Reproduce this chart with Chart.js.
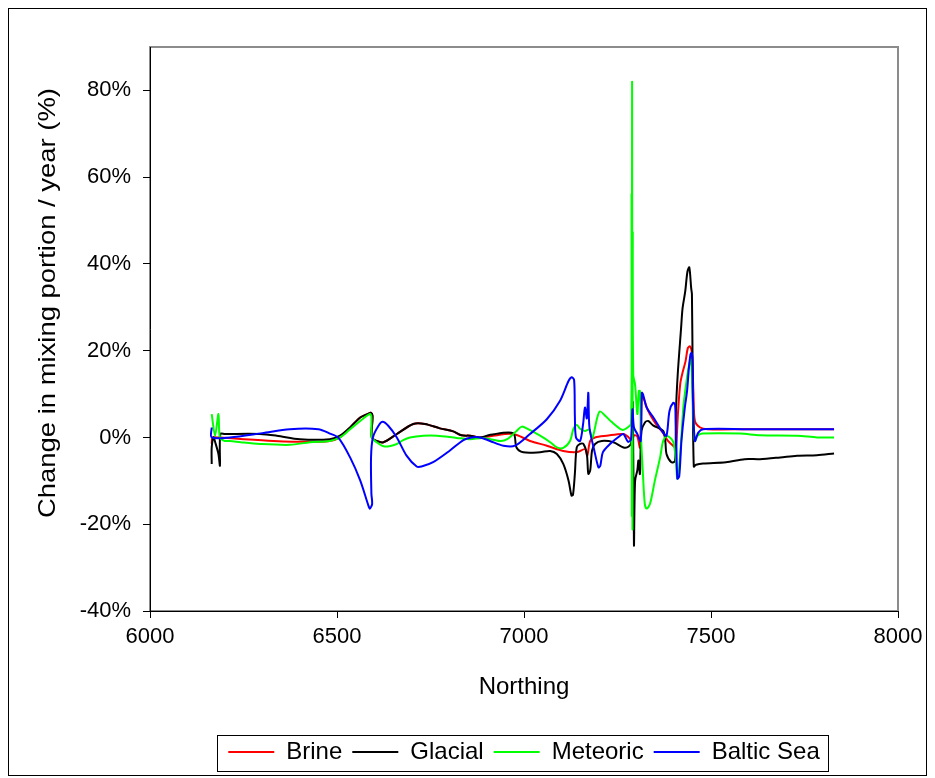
<!DOCTYPE html>
<html>
<head>
<meta charset="utf-8">
<title>Change in mixing portion / year</title>
<script src="https://cdn.jsdelivr.net/npm/chart.js@4"></script>
<style>
  html, body { margin: 0; padding: 0; background: #fff; }
  #wrap { position: relative; width: 935px; height: 778px; }
</style>
</head>
<body>
<div id="wrap"><canvas id="chart"></canvas></div>
<script>
// yearly change in mixing portion (%) along northing, one pair of arrays per end-member
const brineNorthing = [6165, 6167, 6180, 6187, 6250, 6330, 6420, 6480, 6508, 6535, 6562, 6584, 6590, 6595, 6593, 6606, 6624, 6660, 6704, 6735, 6775, 6811, 6833, 6856, 6882, 6910, 6971, 7016, 7061, 7105, 7141, 7163, 7169, 7177, 7190, 7221, 7266, 7280, 7289, 7294, 7303, 7310, 7315, 7320, 7330, 7346, 7360, 7372, 7385, 7400, 7406, 7412, 7418, 7425, 7432, 7438, 7444, 7449, 7453, 7457, 7471, 7490, 7600, 7829];
const brineChange = [-1.5, 0, 0, 0, -0.4, -0.8, -1.0, -0.8, 0, 2.3, 4.6, 5.5, 5.7, 5.0, 0, -0.8, -1.1, 0.8, 3.1, 3.1, 2.1, 1.4, 0.5, 0.4, 0, 0.3, 0.8, -0.8, -1.9, -3.1, -3.4, -2.7, -4.2, -0.8, 0, 0.4, 0.8, 0, -0.8, 0.5, 0.2, -2.3, 9.5, 9.0, 6.5, 4.0, 2.3, 1.0, -0.8, -2.0, -2.3, 6.0, 12.5, 15.3, 17.6, 20.6, 21.0, 19.5, 10.3, 3.8, 2.3, 1.9, 1.9, 1.9];

const glacialNorthing = [6165, 6165, 6170, 6174, 6183, 6187, 6188, 6200, 6294, 6339, 6401, 6481, 6508, 6535, 6562, 6584, 6590, 6595, 6593, 6606, 6624, 6660, 6704, 6735, 6775, 6811, 6833, 6856, 6882, 6910, 6971, 6980, 6998, 7043, 7070, 7088, 7105, 7119, 7127, 7131, 7136, 7141, 7150, 7159, 7168, 7172, 7177, 7182, 7190, 7208, 7239, 7266, 7280, 7288, 7291, 7294, 7297, 7303, 7306, 7310, 7314, 7323, 7332, 7345, 7372, 7378, 7381, 7394, 7404, 7406, 7411, 7420, 7424, 7431, 7437, 7442, 7447, 7449, 7451, 7454, 7460, 7479, 7540, 7590, 7631, 7685, 7730, 7783, 7829];
const glacialChange = [-6.1, -2.3, 0, -1.0, -3.8, -6.5, 0.8, 0.8, 0.8, 0.4, -0.4, -0.4, 0.4, 2.3, 4.6, 5.5, 5.7, 5.0, 0, -0.8, -1.1, 0.8, 3.1, 3.1, 2.1, 1.4, 0.5, 0.4, 0, 0.6, 1.0, -2.3, -3.4, -3.4, -3.1, -3.8, -6.1, -9.9, -13.4, -13.2, -8.4, -2.3, -1.5, -1.5, -3.8, -8.4, -7.6, -3.0, -1.5, -0.8, -1.1, -2.3, -2.1, -0.8, 8.0, -24.8, -10.0, -7.6, -5.3, -8.4, 1.5, 3.4, 3.8, 2.8, 1.5, -1.0, -3.8, -5.7, -5.4, 5.4, 14.5, 25.2, 29.8, 33.6, 38.2, 39.2, 34.4, 33.0, 14.5, -6.7, -6.3, -6.0, -5.7, -5.0, -5.0, -4.6, -4.2, -4.1, -3.7];

const meteoricNorthing = [6165, 6174, 6183, 6187, 6200, 6214, 6243, 6294, 6374, 6428, 6481, 6508, 6535, 6562, 6588, 6592, 6593, 6606, 6628, 6660, 6677, 6695, 6731, 6767, 6820, 6856, 6891, 6936, 6955, 6980, 6994, 7011, 7043, 7070, 7088, 7105, 7123, 7132, 7141, 7150, 7163, 7175, 7182, 7196, 7203, 7215, 7234, 7261, 7272, 7286, 7287.5, 7288.2, 7289, 7290, 7290.8, 7292, 7297, 7303, 7307, 7310, 7313, 7318, 7323, 7328, 7337, 7350, 7364, 7372, 7381, 7390, 7399, 7406, 7410, 7417, 7426, 7433, 7440, 7446, 7450, 7454, 7457, 7464, 7477, 7578, 7631, 7730, 7784, 7829];
const meteoricChange = [5.4, 0.4, 5.4, 0, -0.8, -0.8, -1.1, -1.5, -1.7, -1.1, -0.8, 0, 1.9, 3.8, 5.4, 4.8, 0, -1.1, -2.1, -1.5, -0.6, 0, 0.4, 0.4, -0.1, -0.4, -0.1, -0.8, -0.4, 1.5, 2.5, 1.9, 0.4, -1.1, -2.3, -2.4, -0.8, 1.9, 2.9, 2.0, 1.5, 1.8, -0.3, 4.6, 6.0, 5.2, 3.6, 1.8, 2.0, 3.2, 56.0, -18.0, 82.0, -21.0, 47.0, 14.5, 12.2, 5.4, 10.7, 10.7, 0, -8.4, -15.3, -16.4, -15.3, -9.9, -4.6, -0.8, 0.3, 0, -1.0, -5.0, -9.5, -4.6, 6.9, 12.0, 16.0, 18.0, 12.0, 2.0, -0.8, 0.4, 0.9, 0.9, 0.5, 0.4, 0, 0];

const balticNorthing = [6165, 6165, 6214, 6300, 6374, 6450, 6481, 6504, 6535, 6562, 6584, 6588, 6594, 6592, 6591, 6596, 6611, 6622, 6637, 6660, 6686, 6713, 6726, 6757, 6802, 6838, 6860, 6882, 6909, 6945, 6976, 7016, 7061, 7096, 7119, 7127, 7134, 7136, 7139, 7150, 7158, 7163, 7168, 7172, 7175, 7188, 7199, 7204, 7211, 7230, 7257, 7266, 7278, 7286, 7290, 7294, 7303, 7312, 7315, 7318, 7328, 7346, 7372, 7381, 7389, 7399, 7404, 7407, 7410, 7415, 7421, 7430, 7436, 7441, 7445, 7448, 7450, 7452, 7457, 7466, 7479, 7600, 7829];
const balticChange = [2.3, 0, 0, 1.0, 1.9, 1.9, 0.9, -0.1, -4.6, -9.9, -15.7, -16.4, -15.3, -13.0, -4.6, 0, 2.7, 3.6, 2.7, 0, -4.2, -6.7, -6.7, -5.7, -3.0, -0.6, 0, 0, -0.8, -1.9, -1.9, 0.8, 4.2, 8.4, 13.0, 13.9, 13.2, 5.0, 0, -0.8, 3.1, 6.9, 4.4, 10.3, 2.3, -3.0, -6.9, -6.5, -3.4, -1.5, 0.4, 0.8, -1.0, -0.5, 6.5, 2.3, 0.8, -0.8, 10.3, 10.0, 6.9, 4.6, 1.1, 0.4, 6.1, 8.0, 7.5, 0, -9.5, -9.0, -0.8, 6.9, 10.7, 16.1, 19.1, 19.5, 18.5, 8.4, -0.8, 1.1, 1.9, 1.9, 1.9];

const xTickValues = [6000, 6500, 7000, 7500, 8000];
const yTickValues = [-40, -20, 0, 20, 40, 60, 80];

const family = '"Liberation Sans", Arial, sans-serif';
const tickFont = { family, size: 22 };
const labelFont = { family, size: 24 };
const yTitle = 'Change in mixing portion / year (%)';

function series(label, xs, ys, color, order) {
  return {
    label,
    data: xs.map((x, i) => ({ x, y: ys[i] })),
    borderColor: color,
    backgroundColor: color,
    borderWidth: 2,
    pointRadius: 0,
    showLine: true,
    tension: 0.3,
    order
  };
}

// outer frame, grey plot border, rotated y title and the boxed legend
const decorations = {
  id: 'decorations',
  beforeDraw(chart) {
    const { ctx, chartArea: a } = chart;
    ctx.save();
    ctx.fillStyle = '#fff';
    ctx.fillRect(0, 0, chart.width, chart.height);
    ctx.strokeStyle = '#000';
    ctx.lineWidth = 1;
    ctx.strokeRect(8.5, 8.5, 918, 767);
    ctx.strokeStyle = '#8c8c8c';
    ctx.lineWidth = 2;
    ctx.strokeRect(a.left, a.top, a.right - a.left, a.bottom - a.top);
    ctx.restore();
  },
  afterDraw(chart) {
    const { ctx } = chart;
    ctx.save();
    ctx.fillStyle = '#000';
    ctx.font = `${labelFont.size}px ${family}`;
    ctx.translate(48, 303);
    ctx.rotate(-Math.PI / 2);
    // the title runs 430px along the axis
    const w = ctx.measureText(yTitle).width;
    ctx.scale(430 / w, 1);
    ctx.textAlign = 'center';
    ctx.textBaseline = 'middle';
    ctx.fillText(yTitle, 0, 0);
    ctx.restore();

    const boxes = chart.legend.legendHitBoxes;
    if (!boxes.length) return;
    const first = boxes[0], last = boxes[boxes.length - 1];
    const l = first.left - 11, r = last.left + last.width + 9;
    const t = first.top - 5, b = first.top + first.height + 7;
    ctx.save();
    ctx.strokeStyle = '#000';
    ctx.lineWidth = 1;
    ctx.strokeRect(Math.round(l) + 0.5, Math.round(t) + 0.5, Math.round(r - l), Math.round(b - t));
    ctx.restore();
  }
};

new Chart(document.getElementById('chart'), {
  type: 'scatter',
  data: {
    datasets: [
      series('Brine', brineNorthing, brineChange, '#ff0000', 4),
      series('Glacial', glacialNorthing, glacialChange, '#000000', 3),
      series('Meteoric', meteoricNorthing, meteoricChange, '#00ff00', 2),
      series('Baltic Sea', balticNorthing, balticChange, '#0000ff', 1)
    ]
  },
  options: {
    responsive: true,
    maintainAspectRatio: false,
    animation: false,
    events: [],
    layout: { padding: { left: 8, right: 37, top: 47, bottom: 4 } },
    scales: {
      x: {
        type: 'linear',
        min: 6000,
        max: 8000,
        afterBuildTicks: s => { s.ticks = xTickValues.map(value => ({ value })); },
        afterFit: s => { s.height = 119; },
        grid: { drawOnChartArea: false, tickLength: 7, color: '#000', tickColor: '#000' },
        border: { color: '#000', width: 1 },
        ticks: { color: '#000', font: tickFont, padding: 6, maxRotation: 0, callback: v => String(v) },
        title: { display: true, text: 'Northing', color: '#000', font: labelFont, padding: { top: 0, bottom: 28 } }
      },
      y: {
        type: 'linear',
        min: -40,
        max: 90,
        afterBuildTicks: s => { s.ticks = yTickValues.map(value => ({ value })); },
        afterFit: s => { s.width = 142; },
        grid: { drawOnChartArea: false, tickLength: 7, color: '#000', tickColor: '#000' },
        border: { color: '#000', width: 1 },
        ticks: { color: '#000', font: tickFont, padding: 12, callback: v => v + '%' }
      }
    },
    plugins: {
      tooltip: { enabled: false },
      legend: {
        position: 'bottom',
        fullSize: false,
        labels: {
          color: '#000',
          font: labelFont,
          padding: 10,
          usePointStyle: true,
          pointStyle: 'line',
          pointStyleWidth: 46,
          sort: (a, b) => a.datasetIndex - b.datasetIndex
        }
      }
    }
  },
  plugins: [decorations]
});
</script>
</body>
</html>
